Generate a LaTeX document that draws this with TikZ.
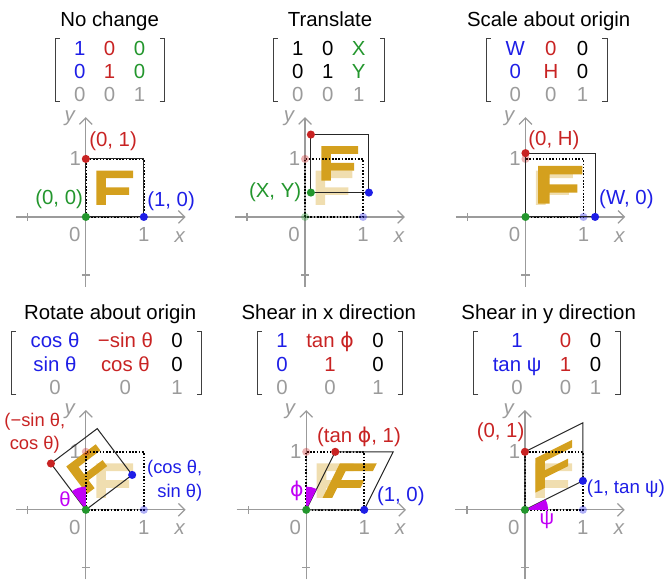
\documentclass[tikz,border=0pt]{standalone}
\usepackage{fontspec}
\setmainfont{Liberation Sans}
\newfontfamily\djv{DejaVu Sans}
\usepackage{array}
\usetikzlibrary{arrows.meta, positioning}
\definecolor{cblue}{HTML}{1E1EE6}
\definecolor{cred}{HTML}{C82323}
\definecolor{cgreen}{HTML}{23962D}
\definecolor{cgray}{HTML}{9B9B9B}
\definecolor{fgold}{HTML}{D4A01E}
\definecolor{cmag}{HTML}{C000F5}
\setlength{\tabcolsep}{0.16cm}

\begin{document}
\begin{tikzpicture}[
  font=\fontsize{10}{11.4}\selectfont,
  axis/.style={cgray, line width=0.6pt, -{Straight Barb[length=1.1mm,width=2.2mm]}},
  tick/.style={cgray, line width=0.6pt},
  ticklab/.style={cgray, inner sep=0pt},
  unitsq/.style={black, line width=0.9pt, dash pattern=on 0.8pt off 0.8pt},
  image/.style={black!85, line width=0.5pt},
  dot/.style={circle, inner sep=0pt, minimum size=0.14cm},
  ghost/.style={opacity=0.35},
  mat/.style={inner sep=0pt},
  brk/.style={black!75, line width=0.5pt},
  title/.style={anchor=base, inner sep=0pt},
  lab/.style={inner sep=0pt},
  small/.style={font=\fontsize{9}{11.4}\selectfont},
  wedge/.style={fill=cmag},
  letterf/.pic={
    \fill[fgold] (0.18,0.207) -- (0.345,0.207) -- (0.345,0.38) -- (0.747,0.38)
      -- (0.747,0.51) -- (0.345,0.51) -- (0.345,0.667) -- (0.816,0.667)
      -- (0.816,0.80) -- (0.18,0.80) -- cycle;
  }
]
\useasboundingbox (0,0) rectangle (11.5,-9.983);

% axes of the six panels
\foreach \px/\py [count=\k] in {1.48/-3.74, 5.26/-3.74, 9.06/-3.74, 1.48/-8.79, 5.28/-8.79, 9.05/-8.79} {
  \begin{scope}[shift={(\px,\py)}]
    \draw[axis] (-1.2,0) -- (1.72,0);
    \draw[axis] (0,-1.2) -- (0,1.72);
    \draw[tick] (-1,-0.07) -- (-1,0.07);
    \draw[tick] (-0.07,-1) -- (0.07,-1);
    \node[ticklab] (zero\k) at (-0.19,-0.31) {0};
    \node[ticklab] (onex\k) at (1,-0.31) {1};
    \node[ticklab] (oney\k) at (-0.18,1) {1};
    \node[ticklab, font=\fontsize{10}{11.4}\selectfont\itshape] (xlab\k) at (1.62,-0.34) {x};
    \node[ticklab, font=\fontsize{10}{11.4}\selectfont\itshape] (ylab\k) at (-0.28,1.7) {y};
  \end{scope}
}

% No change
\begin{scope}[shift={(1.48,-3.74)}]
  \node[title] (t1) at (0.41,3.28) {No change};
  \node[mat] (mat1) at (0.41,2.47) {\begin{tabular}{>{\color{cblue}}c>{\color{cred}}c>{\color{cgreen}}c}
    1 & 0 & 0\\ 0 & 1 & 0\\ \color{cgray}0 & \color{cgray}0 & \color{cgray}1\end{tabular}};
  \pic {letterf};
  \draw[unitsq] (0,0) rectangle (1,1);
  \coordinate (a1) at (0,0);
  \coordinate (b1) at (1,0);
  \coordinate (c1) at (1,1);
  \coordinate (d1) at (0,1);
  \draw[image] (a1) -- (b1) -- (c1) -- (d1) -- cycle;
  \node[dot, fill=cgreen] (dg1) at (a1) {};
  \node[dot, fill=cblue] (db1) at (b1) {};
  \node[dot, fill=cred] (dr1) at (d1) {};
  \node[lab, cred] (lr1) at (0.47,1.3) {(0, 1)};
  \node[lab, cgreen] (lg1) at (-0.46,0.3) {(0, 0)};
  \node[lab, cblue] (lb1) at (1.47,0.27) {(1, 0)};
\end{scope}

% Translate
\begin{scope}[shift={(5.26,-3.74)}]
  \node[title] (t2) at (0.43,3.28) {Translate};
  \node[mat] (mat2) at (0.41,2.47) {\begin{tabular}{cc>{\color{cgreen}}c}
    1 & 0 & X\\ 0 & 1 & Y\\ \color{cgray}0 & \color{cgray}0 & \color{cgray}1\end{tabular}};
  \pic[ghost] {letterf};
  \pic[shift={(0.1,0.42)}] {letterf};
  \draw[unitsq] (0,0) rectangle (1,1);
  \node[dot, fill=cgreen, ghost] (hg2) at (0,0) {};
  \node[dot, fill=cblue, ghost] (hb2) at (1,0) {};
  \node[dot, fill=cred, ghost] (hr2) at (0,1) {};
  \coordinate (a2) at (0.1,0.42);
  \coordinate (b2) at (1.1,0.42);
  \coordinate (c2) at (1.1,1.42);
  \coordinate (d2) at (0.1,1.42);
  \draw[image] (a2) -- (b2) -- (c2) -- (d2) -- cycle;
  \node[dot, fill=cgreen] (dg2) at (a2) {};
  \node[dot, fill=cblue] (db2) at (b2) {};
  \node[dot, fill=cred] (dr2) at (d2) {};
  \node[lab, cgreen, anchor=east] (lg2) at (-0.06,0.42) {(X, Y)};
\end{scope}

% Scale about origin
\begin{scope}[shift={(9.06,-3.74)}]
  \node[title] (t3) at (0.4,3.28) {Scale about origin};
  \node[mat] (mat3) at (0.37,2.47) {\begin{tabular}{>{\color{cblue}}c>{\color{cred}}cc}
    W & 0 & 0\\ 0 & H & 0\\ \color{cgray}0 & \color{cgray}0 & \color{cgray}1\end{tabular}};
  \pic[ghost] {letterf};
  \pic[xscale=1.2, yscale=1.1] {letterf};
  \draw[unitsq] (0,0) rectangle (1,1);
  \node[dot, fill=cblue, ghost] (hb3) at (1,0) {};
  \node[dot, fill=cred, ghost] (hr3) at (0,1) {};
  \coordinate (a3) at (0,0);
  \coordinate (b3) at (1.2,0);
  \coordinate (c3) at (1.2,1.1);
  \coordinate (d3) at (0,1.1);
  \draw[image] (a3) -- (b3) -- (c3) -- (d3) -- cycle;
  \node[dot, fill=cgreen] (dg3) at (a3) {};
  \node[dot, fill=cblue] (db3) at (b3) {};
  \node[dot, fill=cred] (dr3) at (d3) {};
  \node[lab, cred] (lr3) at (0.49,1.33) {(0, H)};
  \node[lab, cblue] (lb3) at (1.74,0.3) {(W, 0)};
\end{scope}

% Rotate about origin
\begin{scope}[shift={(1.48,-8.79)}]
  \node[title] (t4) at (0.42,3.28) {Rotate about origin};
  \node[mat] (mat4) at (0.36,2.47) {\begin{tabular}{>{\color{cblue}}c>{\color{cred}}cc}
    cos θ & −sin θ & 0\\ sin θ & cos θ & 0\\ \color{cgray}0 & \color{cgray}0 & \color{cgray}1\end{tabular}};
  \pic[ghost] {letterf};
  \pic[rotate=37] {letterf};
  \draw[unitsq] (0,0) rectangle (1,1);
  \node[dot, fill=cblue, ghost] (hb4) at (1,0) {};
  \node[dot, fill=cred, ghost] (hr4) at (0,1) {};
  \coordinate (a4) at (0,0);
  \coordinate (b4) at (0.7986,0.6018);
  \coordinate (c4) at (0.1968,1.4004);
  \coordinate (d4) at (-0.6018,0.7986);
  \draw[image] (a4) -- (b4) -- (c4) -- (d4) -- cycle;
  \fill[wedge] (a4) -- (0,0.4) arc[start angle=90, end angle=127, radius=0.4] -- cycle;
  \node[dot, fill=cgreen] (dg4) at (a4) {};
  \node[dot, fill=cblue] (db4) at (b4) {};
  \node[dot, fill=cred] (dr4) at (d4) {};
  \node[lab, small, cred, align=center] (lr4) at (-0.88,1.32) {(−sin θ,\\cos θ)};
  \node[lab, small, cblue, align=right, anchor=west] (lb4) at (1.05,0.5) {(cos θ,\\sin θ)};
  \node[lab, cmag] (th4) at (-0.36,0.18) {θ};
\end{scope}

% Shear in x direction
\begin{scope}[shift={(5.28,-8.79)}]
  \node[title] (t5) at (0.39,3.28) {Shear in x direction};
  \node[mat] (mat5) at (0.41,2.47) {\begin{tabular}{>{\color{cblue}}c>{\color{cred}}cc}
    1 & tan {\djv ϕ} & 0\\ 0 & 1 & 0\\ \color{cgray}0 & \color{cgray}0 & \color{cgray}1\end{tabular}};
  \pic[ghost] {letterf};
  \pic[cm={1,0,0.5,1,(0,0)}] {letterf};
  \draw[unitsq] (0,0) rectangle (1,1);
  \node[dot, fill=cred, ghost] (hr5) at (0,1) {};
  \coordinate (a5) at (0,0);
  \coordinate (b5) at (1,0);
  \coordinate (c5) at (1.5,1);
  \coordinate (d5) at (0.5,1);
  \draw[image] (a5) -- (b5) -- (c5) -- (d5) -- cycle;
  \fill[wedge] (a5) -- (63.43:0.4) arc[start angle=63.43, end angle=90, radius=0.4] -- cycle;
  \node[dot, fill=cgreen] (dg5) at (a5) {};
  \node[dot, fill=cblue] (db5) at (b5) {};
  \node[dot, fill=cred] (dr5) at (d5) {};
  \node[lab, cred] (lr5) at (0.91,1.26) {(tan {\djv ϕ}, 1)};
  \node[lab, cblue] (lb5) at (1.63,0.23) {(1, 0)};
  \node[lab, cmag] (ph5) at (-0.16,0.32) {\djv ϕ};
\end{scope}

% Shear in y direction
\begin{scope}[shift={(9.05,-8.79)}]
  \node[title] (t6) at (0.41,3.28) {Shear in y direction};
  \node[mat] (mat6) at (0.38,2.47) {\begin{tabular}{>{\color{cblue}}c>{\color{cred}}cc}
    1 & 0 & 0\\ tan ψ & 1 & 0\\ \color{cgray}0 & \color{cgray}0 & \color{cgray}1\end{tabular}};
  \pic[ghost] {letterf};
  \pic[cm={1,0.5,0,1,(0,0)}] {letterf};
  \draw[unitsq] (0,0) rectangle (1,1);
  \node[dot, fill=cblue, ghost] (hb6) at (1,0) {};
  \coordinate (a6) at (0,0);
  \coordinate (b6) at (1,0.5);
  \coordinate (c6) at (1,1.5);
  \coordinate (d6) at (0,1);
  \draw[image] (a6) -- (b6) -- (c6) -- (d6) -- cycle;
  \fill[wedge] (a6) -- (0.4,0) arc[start angle=0, end angle=26.57, radius=0.4] -- cycle;
  \node[dot, fill=cgreen] (dg6) at (a6) {};
  \node[dot, fill=cblue] (db6) at (b6) {};
  \node[dot, fill=cred] (dr6) at (d6) {};
  \node[lab, cred] (lr6) at (-0.42,1.33) {(0, 1)};
  \node[lab, cblue, anchor=east, font=\fontsize{9.2}{11}\selectfont] (lb6) at (2.42,0.36) {(1, tan ψ)};
  \node[lab, cmag] (ps6) at (0.38,-0.18) {ψ};
\end{scope}

% brackets round the matrices
\foreach \k in {1,...,6} {
  \draw[brk] ([xshift=-0.08cm,yshift=0.12cm]mat\k.south west) -- ([xshift=-0.16cm,yshift=0.12cm]mat\k.south west)
    -- ([xshift=-0.16cm]mat\k.north west) -- ([xshift=-0.08cm]mat\k.north west);
  \draw[brk] ([xshift=0.08cm,yshift=0.12cm]mat\k.south east) -- ([xshift=0.16cm,yshift=0.12cm]mat\k.south east)
    -- ([xshift=0.16cm]mat\k.north east) -- ([xshift=0.08cm]mat\k.north east);
}
\end{tikzpicture}
\end{document}
